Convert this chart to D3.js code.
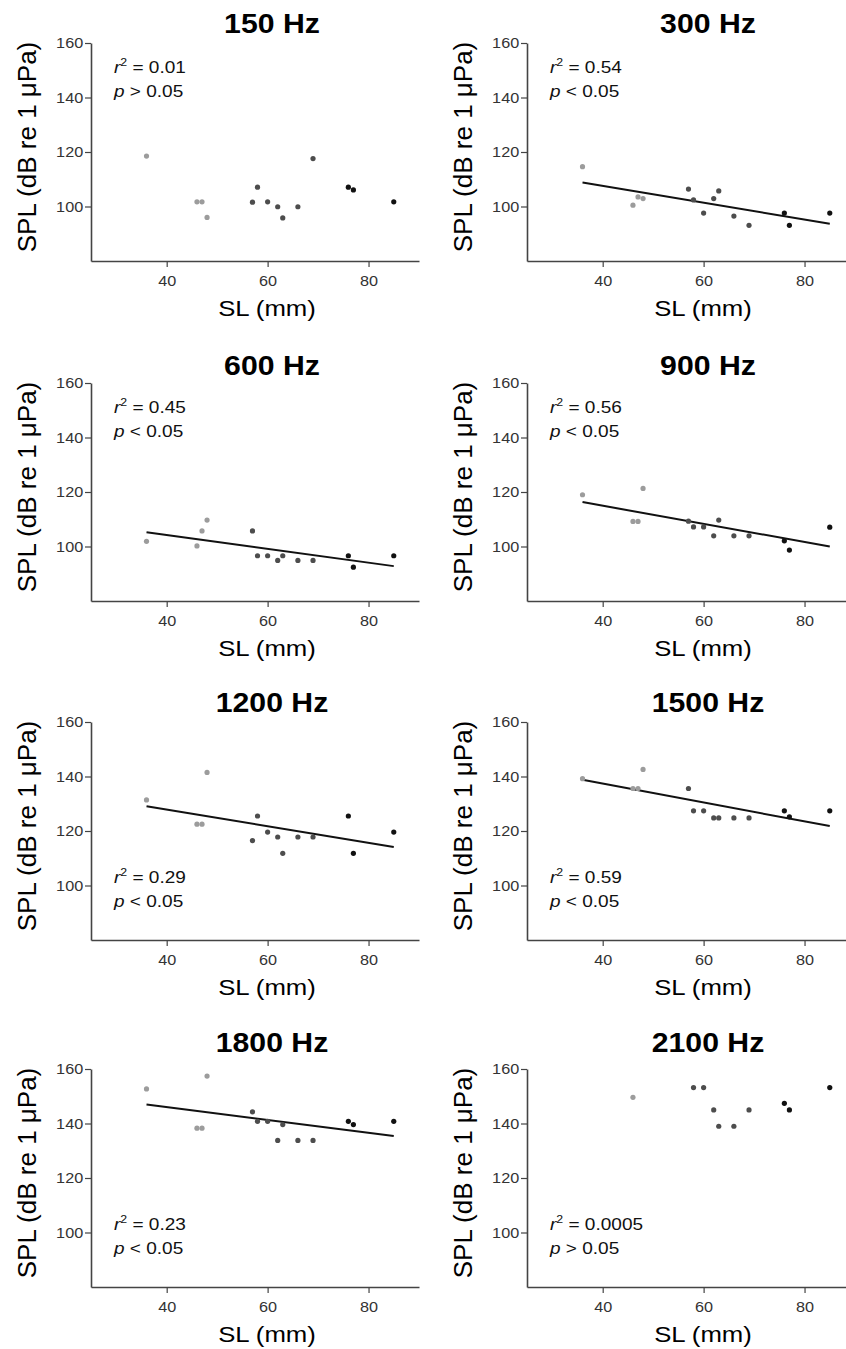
<!DOCTYPE html>
<html>
<head>
<meta charset="utf-8">
<script src="https://cdn.jsdelivr.net/npm/d3@7"></script>
<style>
  body { margin: 0; background: #fff; }
  svg { display: block; font-family: "Liberation Sans", Arial, sans-serif; }
</style>
</head>
<body>
<div id="chart"></div>
<script>
// standard length of each fish (mm) and its size class
var sl = [36, 46, 47, 48, 57, 58, 60, 62, 63, 66, 69, 76, 77, 85];
var sizeClass = [0, 0, 0, 0, 1, 1, 1, 1, 1, 1, 1, 2, 2, 2];
var classColor = ["#9c9c9c", "#4d4d4d", "#111111"];

var freqs = ["150 Hz", "300 Hz", "600 Hz", "900 Hz", "1200 Hz", "1500 Hz", "1800 Hz", "2100 Hz"];

// thresholds (dB re 1 uPa), one per fish, null = no response
var spl150  = [118.5, 101.7, 101.7, 96.0, 101.6, 107.1, 101.7, 99.9, 95.8, 99.9, 117.6, 107.1, 106.1, 101.7];
var spl300  = [114.6, 100.5, 103.5, 102.9, 106.4, 102.4, 97.6, 102.9, 105.7, 96.5, 93.1, 97.6, 93.1, 97.6];
var spl600  = [101.9, 100.2, 105.7, 109.7, 105.7, 96.6, 96.6, 94.9, 96.6, 94.9, 94.9, 96.6, 92.4, 96.6];
var spl900  = [119.0, 109.2, 109.2, 121.3, 109.3, 107.2, 107.2, 103.9, 109.7, 103.9, 103.9, 102.1, 98.7, 107.1];
var spl1200 = [131.4, 122.5, 122.5, 141.5, 116.5, 125.5, 119.6, 117.8, 111.8, 117.8, 117.8, 125.5, 111.8, 119.6];
var spl1500 = [139.2, 135.6, 135.6, 142.6, 135.6, 127.4, 127.4, 124.8, 124.8, 124.8, 124.8, 127.4, 125.2, 127.4];
var spl1800 = [152.7, 138.3, 138.3, 157.4, 144.3, 140.8, 140.8, 133.8, 139.6, 133.8, 133.8, 140.8, 139.6, 140.8];
var spl2100 = [null, 149.6, null, null, null, 153.2, 153.2, 145.0, 139.0, 139.0, 145.0, 147.4, 145.0, 153.2];
var splAll = [spl150, spl300, spl600, spl900, spl1200, spl1500, spl1800, spl2100];

// regression line, SPL at SL = 36 and SL = 85 (null = not drawn)
var fitRange = [36, 85];
var fits = [null, [108.8, 93.7], [105.2, 92.8], [116.3, 100.0], [129.1, 114.1], [138.8, 121.8], [147.0, 135.4], null];

var r2Labels = ["0.01", "0.54", "0.45", "0.56", "0.29", "0.59", "0.23", "0.0005"];
var pSigns = [">", "<", "<", "<", "<", "<", "<", ">"];
var statsBottom = [false, false, false, false, true, true, true, true];

var xTicks = [40, 60, 80];
var yTicks = [100, 120, 140, 160];

var W = 846, H = 1349;
var rowTop = [43, 383, 722, 1069];
var titleY = [33, 375, 712, 1052];
var colX = [91, 527];
var pw = 328, ph = 218;
var stretch = 1.12;

var svg = d3.select("#chart").append("svg")
    .attr("width", W).attr("height", H);

var x = d3.scaleLinear().domain([25, 90]).range([0, pw]);
var y = d3.scaleLinear().domain([80, 160]).range([ph, 0]);

var line = d3.line()
    .x(function(d) { return x(d[0]); })
    .y(function(d) { return y(d[1]); });

freqs.forEach(function(f, i) {
    var row = Math.floor(i / 2), col = i % 2;
    var g = svg.append("g")
        .attr("transform", "translate(" + colX[col] + "," + rowTop[row] + ")");

    // title
    svg.append("text")
        .attr("transform", "translate(" + (colX[col] + 181) + "," + titleY[row] + ") scale(" + stretch + ",1)")
        .attr("text-anchor", "middle")
        .style("font-size", "27px").style("font-weight", "bold")
        .text(f);

    var xAxis = g.append("g")
        .attr("transform", "translate(0," + ph + ")")
        .call(d3.axisBottom(x).tickValues(xTicks).tickSize(6).tickPadding(9).tickSizeOuter(0));
    var yAxis = g.append("g")
        .call(d3.axisLeft(y).tickValues(yTicks).tickSize(6).tickPadding(2).tickSizeOuter(0));

    [xAxis, yAxis].forEach(function(a) {
        a.select(".domain").attr("stroke", "#444").attr("stroke-width", 1.6);
        a.selectAll(".tick line").attr("stroke", "#444").attr("stroke-width", 1.2);
        a.selectAll(".tick text")
            .attr("fill", "#333")
            .attr("transform", "scale(" + stretch + ",1)")
            .style("font-size", "14.5px")
            .style("font-family", "'Liberation Sans', Arial, sans-serif");
    });
    yAxis.selectAll(".tick text").attr("x", -7);

    // axis titles
    g.append("text")
        .attr("transform", "translate(" + 176 + "," + (ph + 55) + ") scale(" + stretch + ",1)")
        .attr("text-anchor", "middle")
        .style("font-size", "23px")
        .text("SL (mm)");
    g.append("text")
        .attr("transform", "translate(-55," + (ph / 2 - 5) + ") rotate(-90)")
        .attr("text-anchor", "middle")
        .style("font-size", "26px")
        .text("SPL (dB re 1 μPa)");

    // regression line
    if (fits[i]) {
        g.append("path")
            .datum([[fitRange[0], fits[i][0]], [fitRange[1], fits[i][1]]])
            .attr("d", line)
            .attr("fill", "none")
            .attr("stroke", "#111")
            .attr("stroke-width", 2);
    }

    // points
    var pts = sl.map(function(s, k) { return { sl: s, spl: splAll[i][k], c: sizeClass[k] }; })
        .filter(function(d) { return d.spl != null; });
    g.selectAll("circle.pt").data(pts).enter().append("circle")
        .attr("class", "pt")
        .attr("cx", function(d) { return x(d.sl); })
        .attr("cy", function(d) { return y(d.spl); })
        .attr("r", 2.6)
        .attr("fill", function(d) { return classColor[d.c]; });

    // stats text
    var sy = statsBottom[i] ? ph - 57 : 30;
    var st = g.append("text")
        .attr("transform", "translate(23," + sy + ") scale(" + stretch + ",1)")
        .style("font-size", "17px").attr("fill", "#111");
    st.append("tspan").style("font-style", "italic").text("r");
    st.append("tspan").attr("dy", -7).style("font-size", "11px").text("2");
    st.append("tspan").attr("dy", 7).text(" = " + r2Labels[i]);
    var sp = g.append("text")
        .attr("transform", "translate(23," + (sy + 24) + ") scale(" + stretch + ",1)")
        .style("font-size", "17px").attr("fill", "#111");
    sp.append("tspan").style("font-style", "italic").text("p");
    sp.append("tspan").text(" " + pSigns[i] + " 0.05");
});
</script>
</body>
</html>
